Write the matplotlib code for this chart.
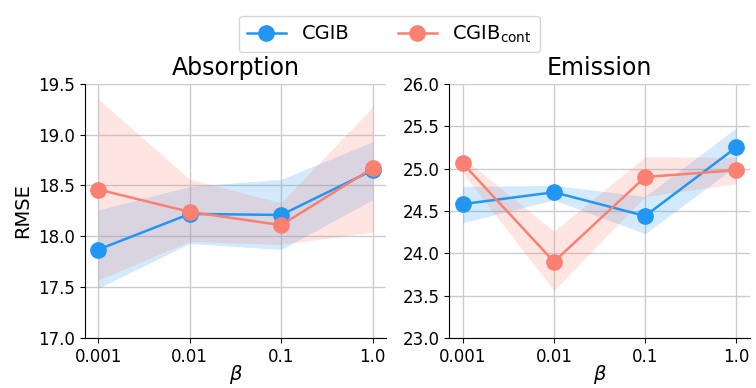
import numpy as np
from matplotlib import pyplot as plt

betas = ["0.001", "0.01", "0.1", "1.0"]

# Absorption
abs_cgib = [17.87, 18.22, 18.21, 18.65]
abs_cgib_lo = [17.49, 17.93, 17.87, 18.36]
abs_cgib_hi = [18.26, 18.49, 18.56, 18.93]
abs_cont = [18.46, 18.24, 18.11, 18.67]
abs_cont_lo = [17.57, 17.95, 17.92, 18.04]
abs_cont_hi = [19.35, 18.56, 18.33, 19.27]

# Emission
emi_cgib = [24.58, 24.72, 24.44, 25.25]
emi_cgib_lo = [24.36, 24.63, 24.23, 25.03]
emi_cgib_hi = [24.79, 24.80, 24.67, 25.48]
emi_cont = [25.06, 23.90, 24.90, 24.98]
emi_cont_lo = [24.95, 23.56, 24.67, 24.82]
emi_cont_hi = [25.13, 24.26, 25.14, 25.13]

BLUE = '#2196F3'
SALMON = '#FA8072'


def panel(ax, title, series, ylim, yticks):
    x = np.arange(len(betas))
    for (mean, lo, hi, color, label) in series:
        ax.fill_between(x, lo, hi, color=color, alpha=0.2, linewidth=0)
        ax.plot(x, mean, color=color, marker='o', markersize=11, linewidth=1.8, label=label)
    ax.set_xticks(x)
    ax.set_xticklabels(betas)
    ax.set_xlim(-0.15, 3.15)
    ax.set_ylim(*ylim)
    ax.set_yticks(yticks)
    ax.grid(True, color='#cccccc', linewidth=1)
    ax.set_axisbelow(True)
    for side in ('top', 'right'):
        ax.spines[side].set_visible(False)
    ax.tick_params(labelsize=12)
    ax.set_title(title, fontsize=17)
    ax.set_xlabel(r'$\beta$', fontsize=14, labelpad=-2)


fig = plt.figure(figsize=(7.56, 3.88), dpi=100)
ax1 = fig.add_axes([0.112, 0.129, 0.399, 0.655])
ax2 = fig.add_axes([0.594, 0.129, 0.398, 0.655])

panel(ax1, 'Absorption',
      [(abs_cgib, abs_cgib_lo, abs_cgib_hi, BLUE, 'CGIB'),
       (abs_cont, abs_cont_lo, abs_cont_hi, SALMON, r'CGIB$_{\mathrm{cont}}$')],
      (17.0, 19.5), np.arange(17.0, 19.51, 0.5))
panel(ax2, 'Emission',
      [(emi_cgib, emi_cgib_lo, emi_cgib_hi, BLUE, 'CGIB'),
       (emi_cont, emi_cont_lo, emi_cont_hi, SALMON, r'CGIB$_{\mathrm{cont}}$')],
      (23.0, 26.0), np.arange(23.0, 26.01, 0.5))
ax1.set_ylabel('RMSE', fontsize=14)

handles, labels = ax1.get_legend_handles_labels()
fig.legend(handles, labels, loc='upper center', bbox_to_anchor=(0.515, 0.985),
           ncol=2, fontsize=14, frameon=True, columnspacing=2.5, handlelength=2.0)

plt.savefig('out.png', dpi=100)
